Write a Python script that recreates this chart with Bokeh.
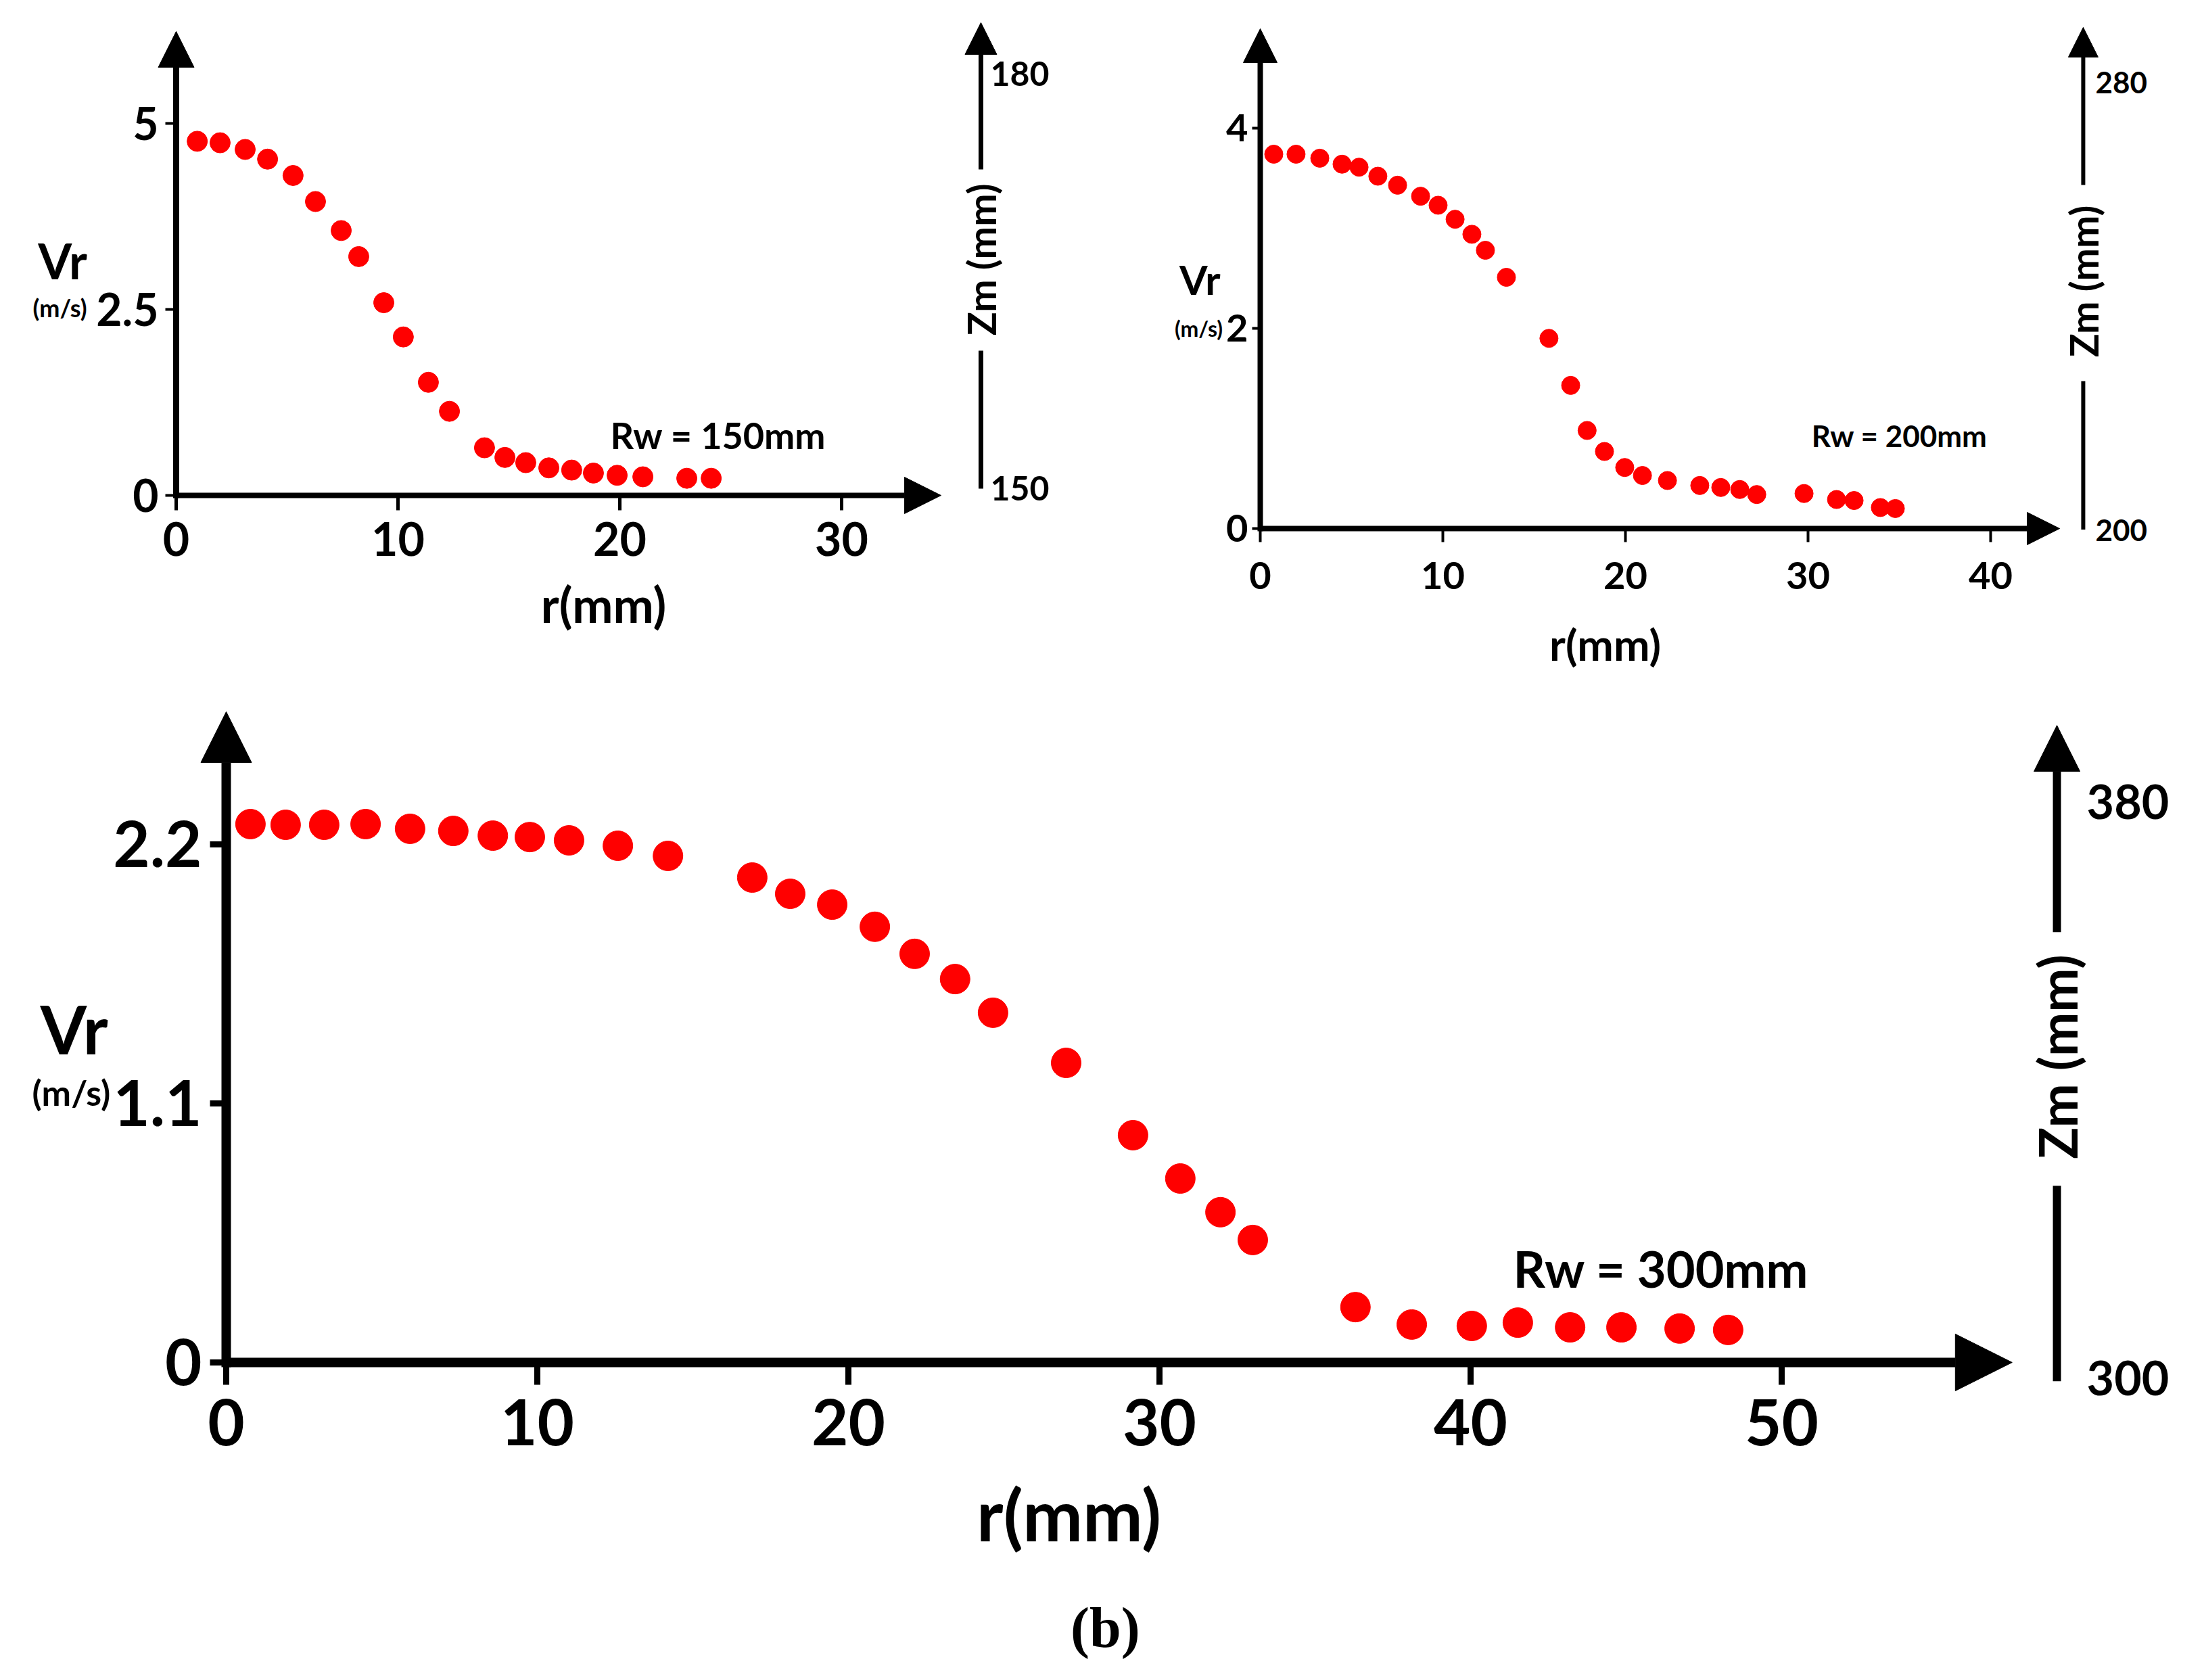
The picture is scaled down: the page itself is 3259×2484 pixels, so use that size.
from bokeh.plotting import figure
from bokeh.layouts import column, row
from bokeh.models import Range1d, LinearAxis, FixedTicker, Arrow, NormalHead, Label
from bokeh.embed import file_html
from bokeh.resources import INLINE

# ---- data ---------------------------------------------------------------
# Rw = 150 mm
r_150 = [0.95, 1.98, 3.11, 4.12, 5.27, 6.28, 7.44, 8.23, 9.36, 10.24, 11.37,
         12.32, 13.90, 14.82, 15.76, 16.80, 17.83, 18.81, 19.88, 21.04, 23.02, 24.12]
vr_150 = [4.76, 4.74, 4.65, 4.52, 4.30, 3.95, 3.56, 3.21, 2.59, 2.13, 1.52,
          1.13, 0.64, 0.51, 0.44, 0.37, 0.34, 0.30, 0.27, 0.25, 0.23, 0.23]

# Rw = 200 mm
r_200 = [0.74, 1.96, 3.26, 4.48, 5.41, 6.44, 7.52, 8.78, 9.74, 10.67, 11.59,
         12.33, 13.48, 15.81, 17.00, 17.90, 18.85, 19.96, 20.93, 22.30, 24.07,
         25.22, 26.26, 27.19, 29.78, 31.56, 32.52, 33.96, 34.78]
vr_200 = [3.74, 3.74, 3.70, 3.64, 3.61, 3.52, 3.43, 3.32, 3.23, 3.09, 2.94,
          2.78, 2.51, 1.90, 1.43, 0.98, 0.77, 0.61, 0.53, 0.48, 0.43,
          0.41, 0.39, 0.34, 0.35, 0.29, 0.28, 0.21, 0.20]

# Rw = 300 mm
r_300 = [0.78, 1.91, 3.15, 4.48, 5.91, 7.30, 8.57, 9.76, 11.02, 12.59, 14.20,
         16.91, 18.13, 19.48, 20.85, 22.13, 23.43, 24.65, 27.00, 29.15, 30.67,
         31.96, 33.00, 36.30, 38.11, 40.04, 41.52, 43.20, 44.85, 46.72, 48.28]
vr_300 = [2.286, 2.283, 2.283, 2.286, 2.266, 2.257, 2.237, 2.231, 2.217, 2.194, 2.151,
          2.059, 1.990, 1.944, 1.850, 1.735, 1.628, 1.485, 1.272, 0.965, 0.781,
          0.638, 0.520, 0.235, 0.161, 0.155, 0.169, 0.149, 0.149, 0.144, 0.138]

r_ticks_150 = [0, 10, 20, 30]
vr_ticks_150 = [0, 2.5, 5]
zm_ticks_150 = [150, 180]

r_ticks_200 = [0, 10, 20, 30, 40]
vr_ticks_200 = [0, 2, 4]
zm_ticks_200 = [200, 280]

r_ticks_300 = [0, 10, 20, 30, 40, 50]
vr_ticks_300 = [0, 1.1, 2.2]
zm_ticks_300 = [300, 380]

FONT = "Lato"

# ---- layout / style of the three panels ---------------------------------
# the frame fills each figure; axes sit at fixed data locations inside it
style_150 = dict(w=1632, h=992, xr=(-7.927, 41.83), yr=(-2.364, 6.6545),
                 zm=(136.74, 185.29), zm_x=36.28, ppy=110,
                 x_tip=34.48, x_head=54, x_lw=8, y_tip=6.236, y_head=53, y_lw=9,
                 zm_up=(4.382, 6.355), zm_low=(0.091, 1.945), zm_head=47, zm_lw=7,
                 vr_xy=(-5.12, 3.16), vr_fs=72, ms_xy=(-5.24, 2.527), ms_fs=36,
                 rl_xy=(19.27, -1.455), rl_fs=72, rw_xy=(19.57, 0.81), rw_fs=54,
                 zl_y=3.17, zl_fs=58,
                 xt_fs=68, yt_fs=66, xt_out=22, xt_w=5, yt_out=16, yt_w=4,
                 xt_off=18, yt_off=10, zt_off=14, zt_fs=50, dot=30)

style_200 = dict(w=1611, h=992, xr=(-8.556, 51.11), yr=(-1.4257, 5.277),
                 zm=(174.86, 294.74), zm_x=45.07, ppy=148,
                 x_tip=43.78, x_head=48, x_lw=8, y_tip=4.993, y_head=50, y_lw=8,
                 zm_up=(3.432, 5.007), zm_low=(-0.01, 1.473), zm_head=44, zm_lw=6,
                 vr_xy=(-3.30, 2.49), vr_fs=60, ms_xy=(-3.37, 2.0), ms_fs=32,
                 rl_xy=(18.89, -1.155), rl_fs=64, rw_xy=(30.19, 0.93), rw_fs=44,
                 zl_y=2.47, zl_fs=58,
                 xt_fs=56, yt_fs=56, xt_out=20, xt_w=4, yt_out=12, yt_w=4,
                 xt_off=30, yt_off=6, zt_off=18, zt_fs=44, dot=27)

style_300 = dict(w=3243, h=1476, xr=(-7.261, 63.24), yr=(-1.304, 2.935),
                 zm=(259.53, 398.12), zm_x=58.85, ppy=348.2,
                 x_tip=57.41, x_head=84, x_lw=14, y_tip=2.763, y_head=75, y_lw=14,
                 zm_up=(1.827, 2.705), zm_low=(-0.08, 0.75), zm_head=68, zm_lw=12,
                 vr_xy=(-4.89, 1.42), vr_fs=99, ms_xy=(-4.98, 1.146), ms_fs=52,
                 rl_xy=(27.09, -0.643), rl_fs=106, rw_xy=(41.37, 0.40), rw_fs=74,
                 zl_y=1.298, zl_fs=78,
                 xt_fs=94, yt_fs=94, xt_out=33, xt_w=9, yt_out=24, yt_w=9,
                 xt_off=22, yt_off=12, zt_off=44, zt_fs=70, dot=44)


def txt(x, y, text, size, **kw):
    opts = dict(text_font=FONT, text_font_style="bold", text_color="black",
                text_font_size=f"{size}px", text_align="center", text_baseline="middle")
    opts.update(kw)
    return Label(x=x, y=y, text=text, **opts)


def head(size):
    return NormalHead(size=size, fill_color="black", line_color="black")


def make_panel(r, vr, r_ticks, vr_ticks, zm_ticks, rw_text, s):
    p = figure(width=s["w"], height=s["h"], output_backend="svg", toolbar_location=None,
               x_range=Range1d(*s["xr"]), y_range=Range1d(*s["yr"]),
               x_axis_type=None, y_axis_type=None,
               min_border=0, min_border_left=0, min_border_right=0,
               min_border_top=0, min_border_bottom=0)
    p.title.visible = False
    p.extra_y_ranges = {"zm": Range1d(*s["zm"])}
    p.outline_line_color = None
    p.grid.visible = False

    p.scatter(r, vr, size=s["dot"], color="#ff0000")

    xax = LinearAxis(fixed_location=0)
    yax = LinearAxis(fixed_location=0)
    for ax, ticks, k in ((xax, r_ticks, "xt"), (yax, vr_ticks, "yt")):
        ax.ticker = FixedTicker(ticks=ticks)
        ax.major_label_overrides = {t: f"{t:g}" for t in ticks}
        ax.axis_line_color = None
        ax.minor_tick_line_color = None
        ax.major_tick_in = 0
        ax.major_tick_out = s[k + "_out"]
        ax.major_tick_line_width = s[k + "_w"]
        ax.major_tick_line_color = "black"
        ax.major_label_standoff = s[k + "_off"]
        ax.major_label_text_font = FONT
        ax.major_label_text_font_style = "bold"
        ax.major_label_text_font_size = f"{s[k + '_fs']}px"
        ax.major_label_text_color = "black"
    p.add_layout(xax, "below")
    p.add_layout(yax, "left")

    zax = LinearAxis(y_range_name="zm", fixed_location=s["zm_x"],
                     ticker=FixedTicker(ticks=zm_ticks),
                     axis_line_color=None, major_tick_line_color=None,
                     minor_tick_line_color=None, major_tick_in=0, major_tick_out=0,
                     major_label_standoff=s["zt_off"], major_label_text_font=FONT,
                     major_label_text_font_style="bold", major_label_text_color="black",
                     major_label_text_font_size=f"{s['zt_fs']}px")
    p.add_layout(zax, "right")

    # axis lines with arrow heads
    half = s["x_lw"] / 2 / s["ppy"]
    p.add_layout(Arrow(end=head(s["y_head"]), x_start=0, y_start=-half, x_end=0,
                       y_end=s["y_tip"], line_width=s["y_lw"], line_color="black"))
    p.add_layout(Arrow(end=head(s["x_head"]), x_start=0, y_start=0, x_end=s["x_tip"],
                       y_end=0, line_width=s["x_lw"], line_color="black"))

    zx = s["zm_x"]
    p.add_layout(Arrow(end=head(s["zm_head"]), x_start=zx, y_start=s["zm_up"][0],
                       x_end=zx, y_end=s["zm_up"][1], line_width=s["zm_lw"],
                       line_color="black"))
    p.segment(x0=[zx], y0=[s["zm_low"][0]], x1=[zx], y1=[s["zm_low"][1]],
              line_width=s["zm_lw"], line_color="black")

    p.add_layout(txt(zx, s["zl_y"], "Zm (mm)", s["zl_fs"], angle=90, angle_units="deg"))
    p.add_layout(txt(*s["vr_xy"], "Vr", s["vr_fs"]))
    p.add_layout(txt(*s["ms_xy"], "(m/s)", s["ms_fs"]))
    p.add_layout(txt(*s["rl_xy"], "r(mm)", s["rl_fs"]))
    p.add_layout(txt(*s["rw_xy"], rw_text, s["rw_fs"], text_align="left"))
    return p


p1 = make_panel(r_150, vr_150, r_ticks_150, vr_ticks_150, zm_ticks_150, "Rw = 150mm", style_150)
p2 = make_panel(r_200, vr_200, r_ticks_200, vr_ticks_200, zm_ticks_200, "Rw = 200mm", style_200)
p3 = make_panel(r_300, vr_300, r_ticks_300, vr_ticks_300, zm_ticks_300, "Rw = 300mm", style_300)

p3.add_layout(Label(x=28.26, y=-1.126, text="(b)", text_font="Liberation Serif",
                    text_font_style="bold", text_font_size="84px", text_color="black",
                    text_align="center", text_baseline="middle"))

page = column(row(p1, p2), p3)
open("out.html", "w").write(file_html(page, INLINE))
